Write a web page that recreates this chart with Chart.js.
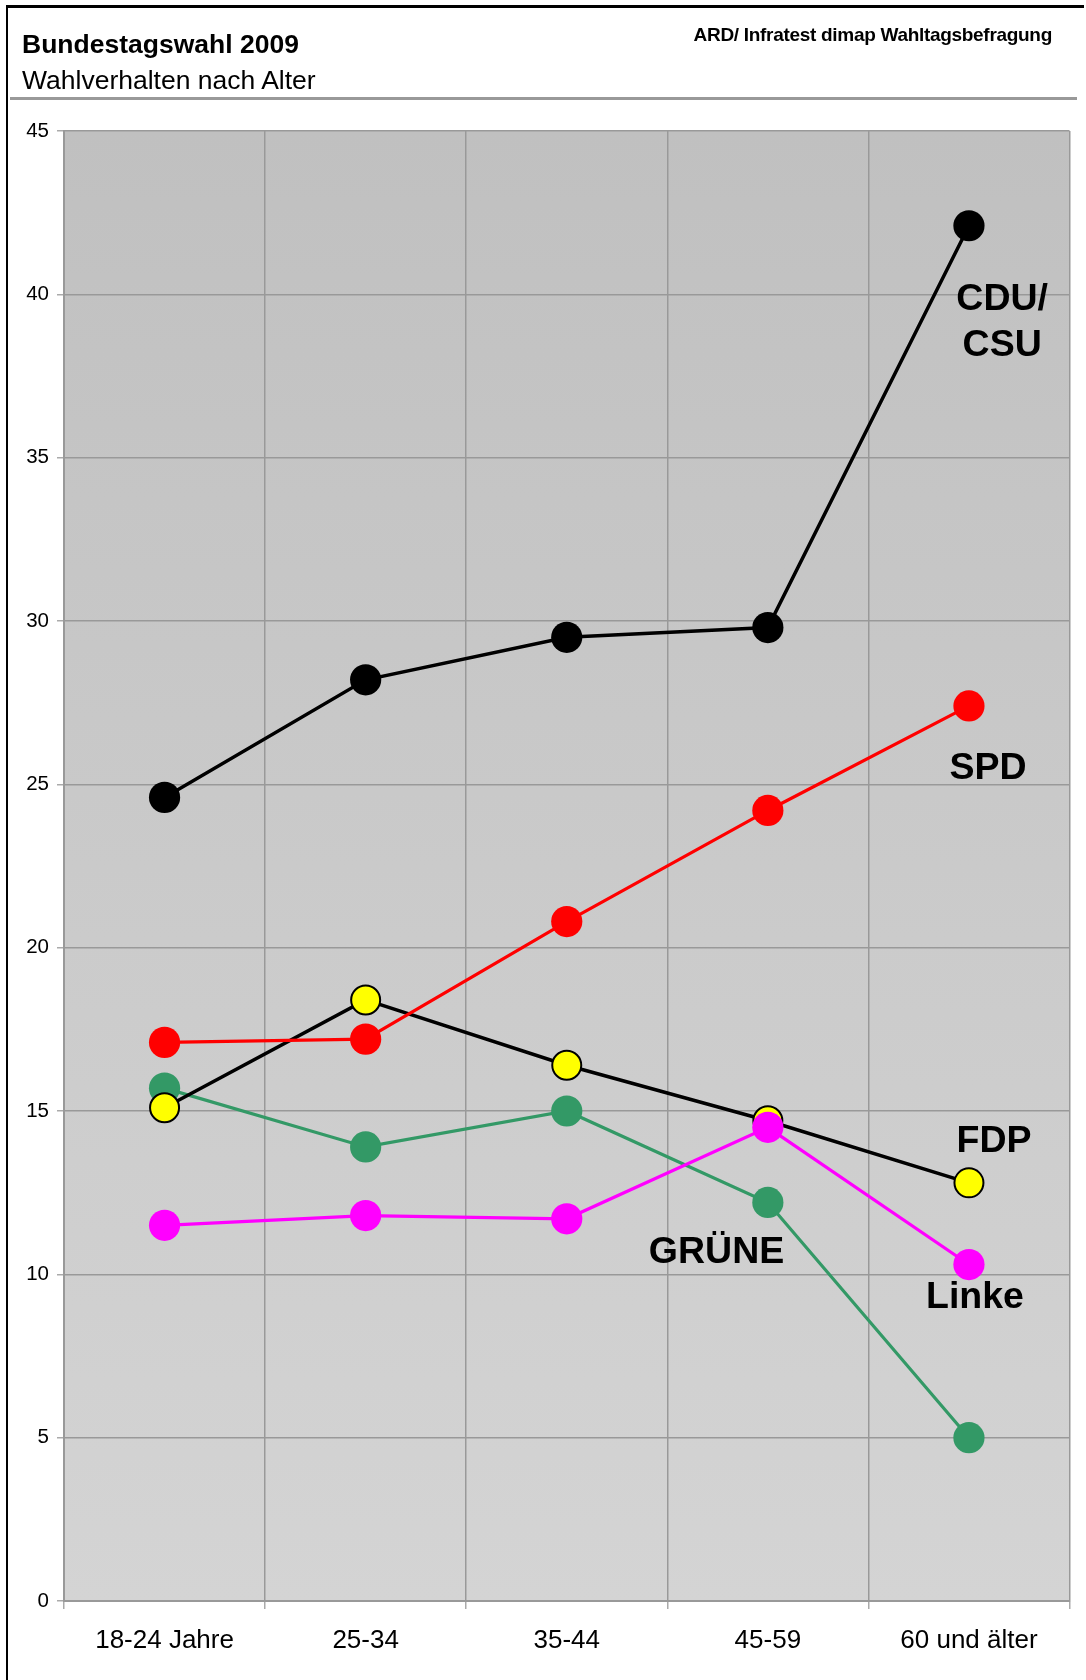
<!DOCTYPE html>
<html>
<head>
<meta charset="utf-8">
<script src="https://cdn.jsdelivr.net/npm/chart.js@4/dist/chart.umd.min.js"></script>
<style>
  html, body { margin: 0; padding: 0; background: #fff; }
  #wrap { position: relative; width: 1086px; height: 1680px; overflow: hidden; font-family: "Liberation Sans", Arial, sans-serif; }
  #chart { position: absolute; left: 0; top: 0; }
  .abs { position: absolute; pointer-events: none; white-space: nowrap; }
</style>
</head>
<body>
<div id="wrap">
  <canvas id="chart" width="1086" height="1680"></canvas>
  <div class="abs" style="left:6px;top:5px;width:1076px;height:1690px;border-left:2px solid #000;border-top:3px solid #000;"></div>
  <div class="abs" style="left:10px;top:97px;width:1067px;height:3px;background:#999;"></div>
  <div class="abs" style="left:22px;top:28px;font-size:26.5px;font-weight:bold;line-height:32px;color:#000;">Bundestagswahl 2009</div>
  <div class="abs" style="left:22px;top:64px;font-size:26.5px;line-height:32px;color:#000;">Wahlverhalten nach Alter</div>
  <div class="abs" style="right:34px;top:24px;font-size:19px;font-weight:bold;line-height:22px;color:#000;letter-spacing:-0.3px;">ARD/ Infratest dimap Wahltagsbefragung</div>
</div>
<script>
const categories = ['18-24 Jahre', '25-34', '35-44', '45-59', '60 und älter'];
const cduCsu = [24.6, 28.2, 29.5, 29.8, 42.1];
const spd    = [17.1, 17.2, 20.8, 24.2, 27.4];
const fdp    = [15.1, 18.4, 16.4, 14.7, 12.8];
const gruene = [15.7, 13.9, 15.0, 12.2, 5.0];
const linke  = [11.5, 11.8, 11.7, 14.5, 10.3];
const yTicks = [0, 5, 10, 15, 20, 25, 30, 35, 40, 45];

// party name labels anchored in data space (category index, value)
const partyLabels   = ['CDU/', 'CSU', 'SPD', 'FDP', 'GRÜNE', 'Linke'];
const partyLabelIdx = [4.165, 4.165, 4.095, 4.125, 2.745, 4.03];
const partyLabelVal = [39.83, 38.43, 25.48, 14.06, 10.65, 9.28];

Chart.defaults.font.family = '"Liberation Sans", Arial, sans-serif';
Chart.defaults.color = '#000';

const bgPlugin = {
  id: 'plotBg',
  beforeDraw(chart) {
    const { ctx, chartArea: a } = chart;
    const g = ctx.createLinearGradient(0, a.top, 0, a.bottom);
    g.addColorStop(0, '#c0c0c0');
    g.addColorStop(1, '#d4d4d4');
    ctx.save();
    ctx.fillStyle = g;
    ctx.fillRect(a.left, a.top, a.right - a.left, a.bottom - a.top);
    ctx.restore();
  }
};

const labelPlugin = {
  id: 'partyLabels',
  afterDatasetsDraw(chart) {
    const { ctx, scales } = chart;
    ctx.save();
    ctx.font = 'bold 37.5px "Liberation Sans", Arial, sans-serif';
    ctx.fillStyle = '#000';
    ctx.textAlign = 'center';
    ctx.textBaseline = 'middle';
    partyLabels.forEach((t, i) => {
      const x = scales.x.getPixelForValue(partyLabelIdx[i]);
      const y = scales.y.getPixelForValue(partyLabelVal[i]);
      ctx.fillText(t, x, y);
    });
    ctx.restore();
  }
};

function ds(label, data, color, order, opts) {
  return Object.assign({
    label, data,
    borderColor: color,
    backgroundColor: color,
    pointBackgroundColor: color,
    pointBorderColor: color,
    pointRadius: 15.6,
    pointBorderWidth: 0,
    pointHoverRadius: 15.6,
    borderWidth: 3.2,
    tension: 0,
    fill: false,
    order
  }, opts || {});
}

new Chart(document.getElementById('chart'), {
  type: 'line',
  data: {
    labels: categories,
    datasets: [
      ds('CDU/CSU', cduCsu, '#000000', 0, { borderWidth: 3.5 }),
      ds('Linke', linke, '#ff00ff', 1),
      ds('SPD', spd, '#ff0000', 2),
      ds('FDP', fdp, '#000000', 3, { borderWidth: 3.5, pointBackgroundColor: '#ffff00', pointBorderColor: '#000000', pointBorderWidth: 2, pointRadius: 14.5, pointHoverRadius: 14.5 }),
      ds('GRÜNE', gruene, '#339966', 4)
    ]
  },
  options: {
    responsive: false,
    animation: false,
    devicePixelRatio: 1,
    layout: { padding: { top: 131, right: 12, left: 0, bottom: 0 } },
    plugins: { legend: { display: false }, tooltip: { enabled: false } },
    scales: {
      x: {
        offset: true,
        grid: { offset: true, color: '#999', lineWidth: 1.5, tickLength: 8, tickColor: '#aaa', drawTicks: true },
        border: { display: true, color: '#999', width: 2 },
        ticks: { font: { size: 26 }, color: '#000', padding: 16, maxRotation: 0, autoSkip: false },
        afterFit(scale) { scale.height = 79; }
      },
      y: {
        min: 0, max: 45,
        afterBuildTicks(scale) { scale.ticks = yTicks.map(v => ({ value: v })); },
        grid: { color: '#999', lineWidth: 1.5, tickLength: 7, tickColor: '#aaa' },
        border: { display: true, color: '#999', width: 2 },
        ticks: { font: { size: 20.5 }, color: '#000', padding: 8 },
        afterFit(scale) { scale.width = 64; }
      }
    }
  },
  plugins: [bgPlugin, labelPlugin]
});
</script>
</body>
</html>
